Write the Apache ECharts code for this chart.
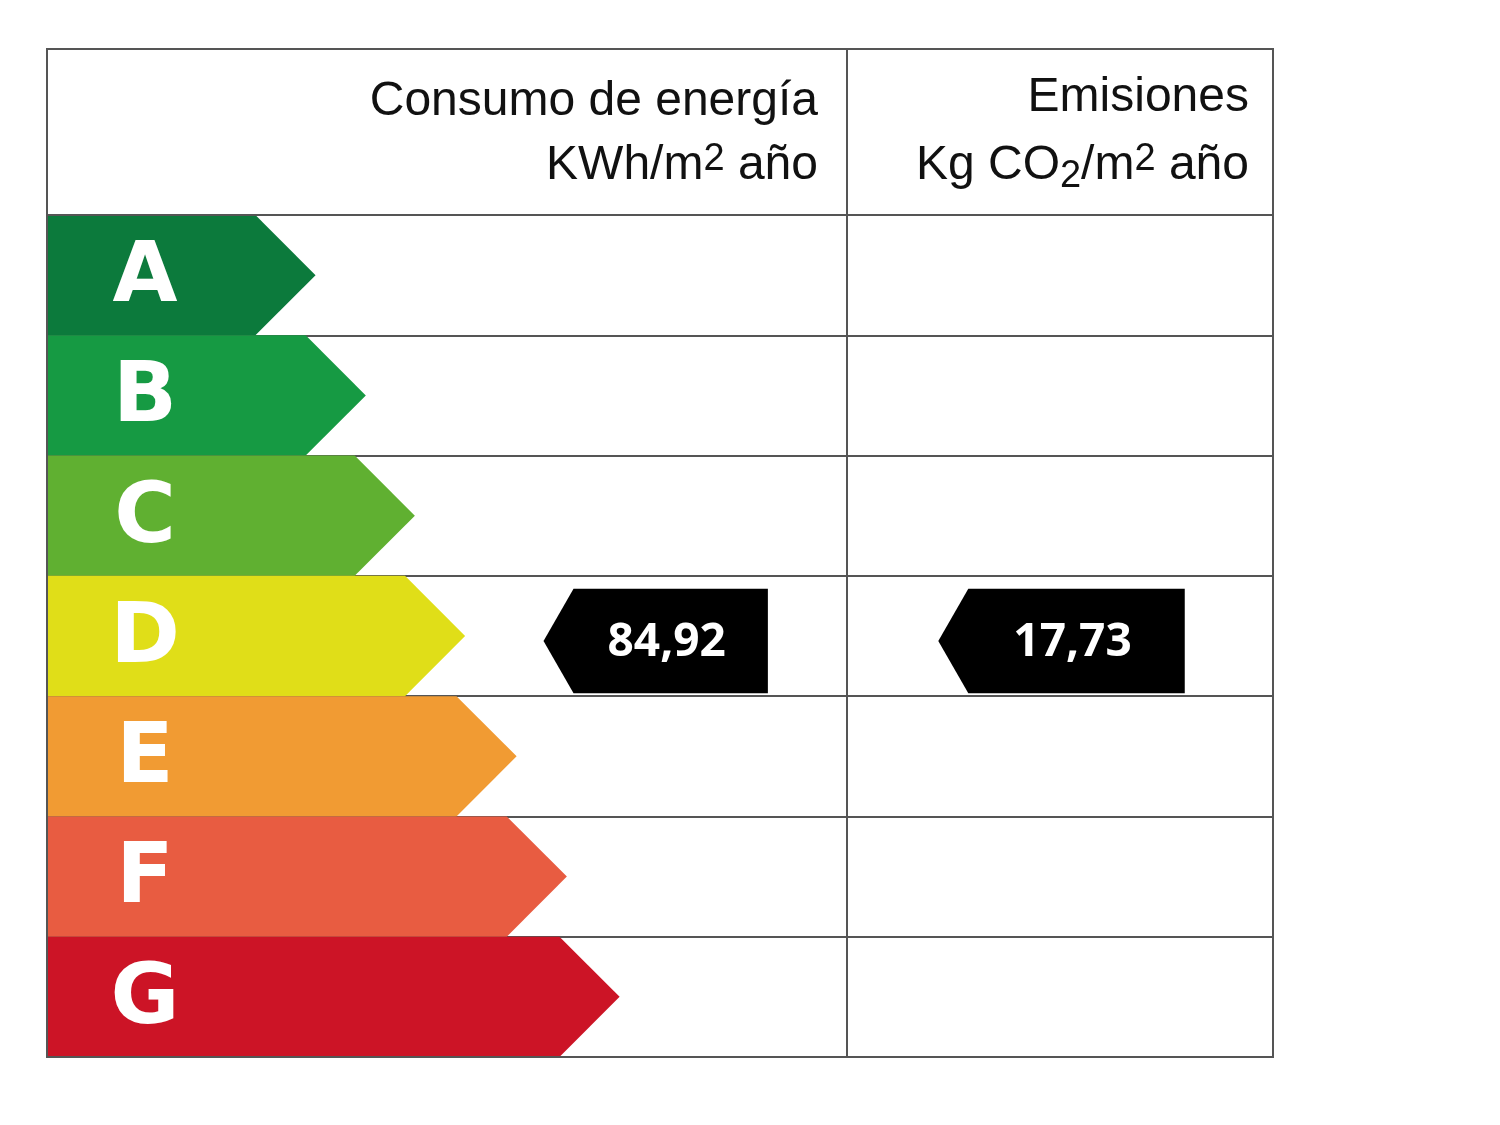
<!DOCTYPE html>
<html>
<head>
<meta charset="utf-8">
<style>html,body{margin:0;padding:0;background:#fff}#main{width:1500px;height:1125px}</style>
<script src="https://cdn.jsdelivr.net/npm/echarts@6/dist/echarts.min.js"></script>
</head>
<body>
<div id="main"></div>
<script>
// clases energéticas
var classes = ['A', 'B', 'C', 'D', 'E', 'F', 'G'];
var classColors = ['#0c7a3c', '#169a43', '#60b031', '#e0de18', '#f19b33', '#e85c41', '#cc1426'];
// largo de cada flecha (unidades del eje x, 0-100 = ancho de la tabla)
var barEnds = [17.0, 21.1, 25.1, 29.2, 33.4, 37.5, 41.8];
// indicadores: [clase, inicio(punta), fin, etiqueta]
var pointers = [[3, 40.5, 58.8, '84,92'], [3, 72.7, 92.8, '17,73']];
var colSplit = 65.25;

var myChart = echarts.init(document.getElementById('main'));

function renderBar(params, api) {
    var idx = api.value(0);
    var start = api.coord([0, idx]);
    var end = api.coord([api.value(1), idx]);
    var h = api.size([0, 1])[1];
    var top = start[1] - h / 2, bot = start[1] + h / 2;
    return {
        type: 'group',
        children: [{
            type: 'polygon',
            shape: { points: [[start[0], top], [end[0], top], [end[0] + h / 2, start[1]], [end[0], bot], [start[0], bot]] },
            style: { fill: classColors[idx] }
        }, {
            type: 'text',
            style: {
                x: start[0] + 98, y: start[1] + 4, text: classes[idx],
                fill: '#fff', font: 'bold 84px "DejaVu Sans"', align: 'center', verticalAlign: 'middle'
            }
        }]
    };
}

function renderPointer(params, api) {
    var idx = api.value(0);
    var tip = api.coord([api.value(1), idx]);
    var end = api.coord([api.value(2), idx]);
    var h = api.size([0, 1])[1] * 0.87;
    var cy = tip[1] + 5, top = cy - h / 2, bot = cy + h / 2;
    var body = tip[0] + 30;
    return {
        type: 'group',
        children: [{
            type: 'polygon',
            shape: { points: [[tip[0], cy], [body, top], [end[0], top], [end[0], bot], [body, bot]] },
            style: { fill: '#000' }
        }, {
            type: 'text',
            style: {
                x: (body + end[0]) / 2 - 4, y: cy + 2, text: pointers[params.dataIndex][3],
                fill: '#fff', font: 'bold 46px "Open Sans"', align: 'center', verticalAlign: 'middle'
            }
        }]
    };
}

var option = {
    animation: false,
    grid: { left: 47, right: 227, top: 215, bottom: 68 },
    xAxis: { type: 'value', min: 0, max: 100, show: false },
    yAxis: {
        type: 'category', data: classes, inverse: true,
        axisLine: { show: false }, axisTick: { show: false }, axisLabel: { show: false },
        splitLine: { show: true, lineStyle: { color: '#555', width: 2 } }
    },
    graphic: [
        { type: 'rect', shape: { x: 47, y: 49, width: 1226, height: 1008 }, style: { fill: 'none', stroke: '#555', lineWidth: 2 }, z: 10 },
        { type: 'line', shape: { x1: 47, y1: 215, x2: 1273, y2: 215 }, style: { stroke: '#555', lineWidth: 2 }, z: 10 },
        { type: 'line', shape: { x1: 847, y1: 49, x2: 847, y2: 1057 }, style: { stroke: '#555', lineWidth: 2 }, z: 10 },
        { type: 'text', x: 818, y: 102, style: { text: 'Consumo de energía', fill: '#111', font: '48px "Liberation Sans Narrow", "Liberation Sans"', align: 'right', verticalAlign: 'middle' } },
        { type: 'text', x: 818, y: 166, style: {
            text: '{a|KWh/m}{s|2}{a| año}', align: 'right', verticalAlign: 'middle',
            rich: { a: { fill: '#111', font: '48px "Liberation Sans Narrow", "Liberation Sans"' }, s: { fill: '#111', font: '38px "Liberation Sans Narrow", "Liberation Sans"', padding: [0, 0, 12, 0] } }
        } },
        { type: 'text', x: 1249, y: 98, style: { text: 'Emisiones', fill: '#111', font: '48px "Liberation Sans Narrow", "Liberation Sans"', align: 'right', verticalAlign: 'middle' } },
        { type: 'text', x: 1249, y: 166, style: {
            text: '{a|Kg CO}{b|2}{a|/m}{s|2}{a| año}', align: 'right', verticalAlign: 'middle',
            rich: {
                a: { fill: '#111', font: '48px "Liberation Sans Narrow", "Liberation Sans"' },
                b: { fill: '#111', font: '38px "Liberation Sans Narrow", "Liberation Sans"', padding: [22, 0, 0, 0] },
                s: { fill: '#111', font: '38px "Liberation Sans Narrow", "Liberation Sans"', padding: [0, 0, 12, 0] }
            }
        } }
    ],
    series: [{
        type: 'custom', renderItem: renderBar,
        data: barEnds.map(function (v, i) { return [i, v]; })
    }, {
        type: 'custom', renderItem: renderPointer,
        data: pointers.map(function (p) { return [p[0], p[1], p[2]]; })
    }]
};
myChart.setOption(option);
</script>
</body>
</html>
